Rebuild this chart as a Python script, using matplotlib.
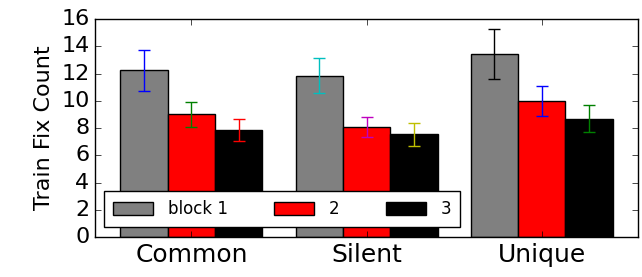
import matplotlib
matplotlib.use("Agg")
import matplotlib.pyplot as plt
import numpy as np

plt.style.use("classic")

groups = ["Common", "Silent", "Unique"]
labels = ["block 1", "2", "3"]
means = [
    [12.25, 11.85, 13.45],   # block 1
    [9.0, 8.1, 10.0],        # 2
    [7.85, 7.55, 8.7],       # 3
]
errs = [
    [1.5, 1.3, 1.85],
    [0.95, 0.75, 1.1],
    [0.8, 0.85, 1.0],
]
bar_colors = ["gray", "red", "black"]
err_colors = ["b", "g", "r", "c", "m", "y", "k", "b", "g"]

fig = plt.figure(figsize=(6.42, 2.77), dpi=100)
ax = fig.add_axes([0.148, 0.144, 0.846, 0.787])

x = np.arange(len(groups))
w = 0.27
k = 0
for i in range(3):
    ax.bar(x + (i - 1) * w, means[i], w, color=bar_colors[i],
           edgecolor="black", linewidth=1, label=labels[i], align="center")
for j in range(len(groups)):
    for i in range(3):
        ax.errorbar(x[j] + (i - 1) * w, means[i][j], yerr=errs[i][j],
                    fmt="none", ecolor=err_colors[k], capsize=4,
                    elinewidth=1, capthick=1)
        k += 1

ax.set_xlim(-0.55, 2.55)
ax.set_ylim(0, 16)
ax.set_yticks(range(0, 17, 2))
ax.set_xticks(x)
ax.set_xticklabels(groups, fontsize=18)
ax.tick_params(axis="y", labelsize=16)
ax.set_ylabel("Train Fix Count", fontsize=16)
ax.legend(loc="lower left", ncol=3, fontsize=12, handlelength=2.4,
          handleheight=0.8, bbox_to_anchor=(0.017, 0.046), borderaxespad=0,
          columnspacing=2.75, handletextpad=0.9, borderpad=0.55)

fig.savefig("out.png", dpi=100)
